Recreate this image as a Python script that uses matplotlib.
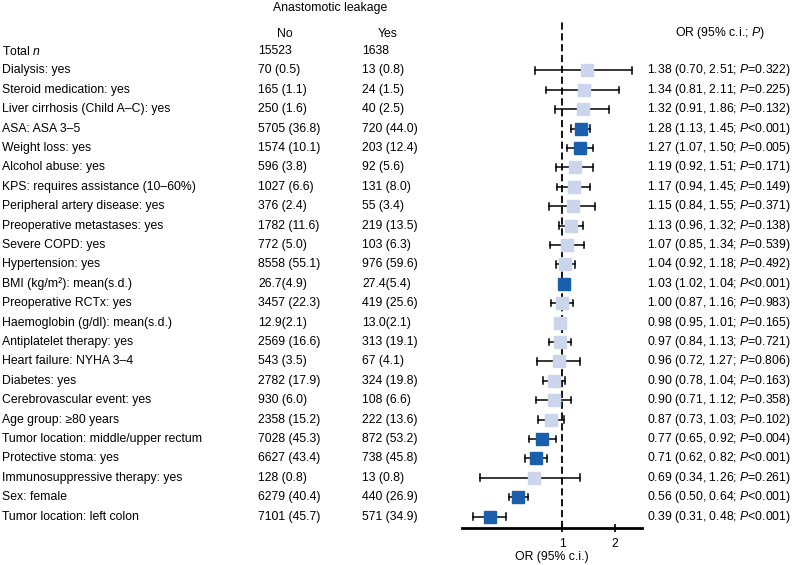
import matplotlib
matplotlib.use("Agg")
import matplotlib.pyplot as plt
import matplotlib.transforms as mtransforms

plt.rcParams['font.family'] = ['Liberation Sans', 'DejaVu Sans']
plt.rcParams['mathtext.fontset'] = 'custom'
plt.rcParams['mathtext.rm'] = 'Liberation Sans'
plt.rcParams['mathtext.it'] = 'Liberation Sans:italic'

labels = ['Dialysis: yes', 'Steroid medication: yes', 'Liver cirrhosis (Child A\u2013C): yes',
          'ASA: ASA 3\u20135', 'Weight loss: yes', 'Alcohol abuse: yes',
          'KPS: requires assistance (10\u201360%)', 'Peripheral artery disease: yes',
          'Preoperative metastases: yes', 'Severe COPD: yes', 'Hypertension: yes',
          'BMI (kg/m\u00b2): mean(s.d.)', 'Preoperative RCTx: yes',
          'Haemoglobin (g/dl): mean(s.d.)', 'Antiplatelet therapy: yes',
          'Heart failure: NYHA 3\u20134', 'Diabetes: yes', 'Cerebrovascular event: yes',
          'Age group: \u226580 years', 'Tumor location: middle/upper rectum',
          'Protective stoma: yes', 'Immunosuppressive therapy: yes', 'Sex: female',
          'Tumor location: left colon']
no_col = ['70 (0.5)', '165 (1.1)', '250 (1.6)', '5705 (36.8)', '1574 (10.1)', '596 (3.8)',
          '1027 (6.6)', '376 (2.4)', '1782 (11.6)', '772 (5.0)', '8558 (55.1)', '26.7(4.9)',
          '3457 (22.3)', '12.9(2.1)', '2569 (16.6)', '543 (3.5)', '2782 (17.9)', '930 (6.0)',
          '2358 (15.2)', '7028 (45.3)', '6627 (43.4)', '128 (0.8)', '6279 (40.4)', '7101 (45.7)']
yes_col = ['13 (0.8)', '24 (1.5)', '40 (2.5)', '720 (44.0)', '203 (12.4)', '92 (5.6)',
           '131 (8.0)', '55 (3.4)', '219 (13.5)', '103 (6.3)', '976 (59.6)', '27.4(5.4)',
           '419 (25.6)', '13.0(2.1)', '313 (19.1)', '67 (4.1)', '324 (19.8)', '108 (6.6)',
           '222 (13.6)', '872 (53.2)', '738 (45.8)', '13 (0.8)', '440 (26.9)', '571 (34.9)']
or_est = [1.38, 1.34, 1.32, 1.28, 1.27, 1.19, 1.17, 1.15, 1.13, 1.07, 1.04, 1.03,
          1.00, 0.98, 0.97, 0.96, 0.90, 0.90, 0.87, 0.77, 0.71, 0.69, 0.56, 0.39]
ci_lo = [0.70, 0.81, 0.91, 1.13, 1.07, 0.92, 0.94, 0.84, 0.96, 0.85, 0.92, 1.02,
         0.87, 0.95, 0.84, 0.72, 0.78, 0.71, 0.73, 0.65, 0.62, 0.34, 0.50, 0.31]
ci_hi = [2.51, 2.11, 1.86, 1.45, 1.50, 1.51, 1.45, 1.55, 1.32, 1.34, 1.18, 1.04,
         1.16, 1.01, 1.13, 1.27, 1.04, 1.12, 1.03, 0.92, 0.82, 1.26, 0.64, 0.48]
p_vals = ['=0.322', '=0.225', '=0.132', '<0.001', '=0.005', '=0.171', '=0.149', '=0.371',
          '=0.138', '=0.539', '=0.492', '<0.001', '=0.983', '=0.165', '=0.721', '=0.806',
          '=0.163', '=0.358', '=0.102', '=0.004', '<0.001', '=0.261', '<0.001', '<0.001']
total_no = '15523'
total_yes = '1638'

W, H = 798, 565
fig = plt.figure(figsize=(W / 100, H / 100), dpi=100)

# forest axes placed in pixel coords: x 462..642, y 20..528
ax = fig.add_axes([462 / W, 1 - 528 / H, 180 / W, 508 / H])
ax.set_xscale('log')
ax.set_xlim(0.27, 2.85)
ax.set_ylim(24.59, -1.6)

dark = '#1a5fae'
light = '#cbd5eb'
for i, (m, lo, hi) in enumerate(zip(or_est, ci_lo, ci_hi)):
    y = i + 1
    ax.plot([lo, hi], [y, y], color='black', lw=1.1, zorder=2)
    ax.plot([lo, lo], [y - 0.17, y + 0.17], color='black', lw=1.1, zorder=2)
    ax.plot([hi, hi], [y - 0.17, y + 0.17], color='black', lw=1.1, zorder=2)
    col = dark if (lo > 1 or hi < 1) else light
    ax.plot(m, y, marker='s', ms=8.5, color=col, mec=col, zorder=3)

ax.axvline(1, color='black', lw=1.3, ls=(0, (4, 2)), zorder=1)

for s in ['top', 'right', 'left']:
    ax.spines[s].set_visible(False)
ax.spines['bottom'].set_linewidth(2)
ax.set_yticks([])
ax.set_xticks([1, 2])
ax.set_xticklabels(['1', '2'])
ax.xaxis.set_minor_locator(matplotlib.ticker.NullLocator())
ax.tick_params(axis='x', direction='inout', length=6, width=1.2, labelsize=8.8, pad=4)
ax.set_xlabel('OR (95% c.i.)', fontsize=8.8, labelpad=1)

# text columns
tr = mtransforms.blended_transform_factory(fig.transFigure, ax.transData)
fs = 8.8
ax.text(2 / W, 0, 'Total $\\it{n}$', transform=tr, fontsize=fs, va='center', clip_on=False)
ax.text(258 / W, 0, total_no, transform=tr, fontsize=fs, va='center', clip_on=False)
ax.text(362 / W, 0, total_yes, transform=tr, fontsize=fs, va='center', clip_on=False)
for i in range(len(labels)):
    y = i + 1
    ax.text(2 / W, y, labels[i], transform=tr, fontsize=fs, va='center', clip_on=False)
    ax.text(258 / W, y, no_col[i], transform=tr, fontsize=fs, va='center', clip_on=False)
    ax.text(362 / W, y, yes_col[i], transform=tr, fontsize=fs, va='center', clip_on=False)
    txt = '%.2f (%.2f, %.2f; $\\it{P}$%s)' % (or_est[i], ci_lo[i], ci_hi[i], p_vals[i])
    ax.text(647 / W, y, txt, transform=tr, fontsize=fs, va='center', clip_on=False)

fig.text(330 / W, 1 - 8 / H, 'Anastomotic leakage', fontsize=fs, ha='center', va='center')
fig.text(285 / W, 1 - 34 / H, 'No', fontsize=fs, ha='center', va='center')
fig.text(388 / W, 1 - 34 / H, 'Yes', fontsize=fs, ha='center', va='center')
fig.text(720 / W, 1 - 33 / H, 'OR (95% c.i.; $\\it{P}$)', fontsize=fs, ha='center', va='center')

fig.savefig('out.png', dpi=100)
